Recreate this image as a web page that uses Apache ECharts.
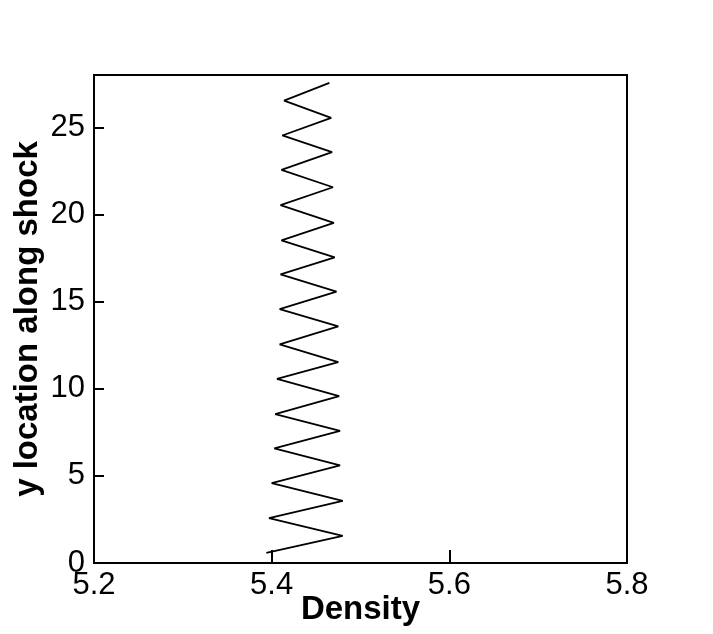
<!DOCTYPE html>
<html>
<head>
<meta charset="utf-8">
<script src="https://cdn.jsdelivr.net/npm/echarts@6/dist/echarts.min.js"></script>
<style>
  html, body { margin: 0; padding: 0; background: #fff; }
  #chart { width: 713px; height: 634px; }
</style>
</head>
<body>
<div id="chart"></div>
<script>
// density along the shock (x) vs y location (y)
const densityValues = [
  5.394, 5.480, 5.397, 5.480, 5.400, 5.477, 5.403, 5.477, 5.404, 5.476,
  5.406, 5.475, 5.409, 5.475, 5.409, 5.473, 5.410, 5.471, 5.411, 5.470,
  5.410, 5.469, 5.411, 5.468, 5.412, 5.467, 5.414, 5.465
];
const yLocations = [
  0.58, 1.56, 2.58, 3.57, 4.58, 5.60, 6.57, 7.58, 8.54, 9.57,
  10.56, 11.52, 12.55, 13.58, 14.57, 15.57, 16.56, 17.54, 18.51, 19.52,
  20.53, 21.56, 22.56, 23.57, 24.53, 25.54, 26.53, 27.55
];
const xTicks = [5.2, 5.4, 5.6, 5.8];
const yTicks = [0, 5, 10, 15, 20, 25];

const font = '"Liberation Sans", Arial, sans-serif';

const myChart = echarts.init(document.getElementById('chart'));
const option = {
  backgroundColor: '#fff',
  animation: false,
  grid: {
    left: 94, top: 75, right: 86, bottom: 71,
    outerBoundsMode: 'none',
    containLabel: false,
    show: true, borderColor: '#000', borderWidth: 2
  },
  xAxis: {
    type: 'value',
    min: xTicks[0],
    max: xTicks[xTicks.length - 1],
    interval: 0.2,
    name: 'Density',
    nameLocation: 'middle',
    nameMoveOverlap: false,
    nameGap: 30,
    nameTextStyle: { fontFamily: font, fontWeight: 'bold', fontSize: 33, color: '#000' },
    axisLine: { lineStyle: { color: '#000', width: 2 } },
    axisTick: { inside: true, length: 13, lineStyle: { color: '#000', width: 2 } },
    axisLabel: {
      fontFamily: font, fontSize: 31, color: '#000', margin: 7,
      formatter: v => v.toFixed(1)
    },
    splitLine: { show: false }
  },
  yAxis: {
    type: 'value',
    min: 0,
    max: 28,
    interval: 5,
    name: 'y location along shock',
    nameLocation: 'middle',
    nameMoveOverlap: false,
    nameGap: 50,
    nameTextStyle: { fontFamily: font, fontWeight: 'bold', fontSize: 33, color: '#000' },
    axisLine: { lineStyle: { color: '#000', width: 2 } },
    axisTick: { inside: true, length: 10, lineStyle: { color: '#000', width: 2 } },
    axisLabel: {
      fontFamily: font, fontSize: 31, color: '#000', margin: 9,
      showMaxLabel: false,
      formatter: v => (yTicks.indexOf(v) >= 0 ? String(v) : '')
    },
    splitLine: { show: false }
  },
  series: [{
    type: 'line',
    data: densityValues.map((d, i) => [d, yLocations[i]]),
    showSymbol: false,
    lineStyle: { color: '#000', width: 1.8 },
    itemStyle: { color: '#000' }
  }]
};
myChart.setOption(option);
</script>
</body>
</html>
